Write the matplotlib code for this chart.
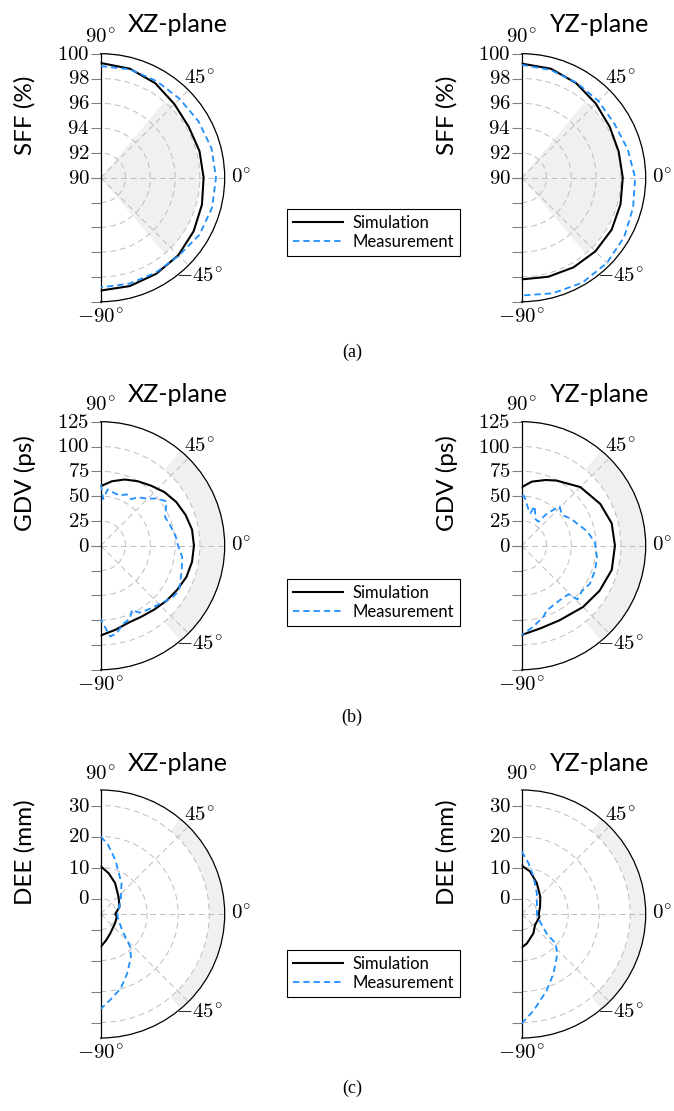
import numpy as np
import matplotlib
matplotlib.use("Agg")
import matplotlib.pyplot as plt
from matplotlib.lines import Line2D

plt.rcParams['mathtext.fontset'] = 'cm'

W, H = 674, 1111

# ---------------- data (angles in degrees) ----------------
SFF_XZ_SIM_DEG = [90, 75, 60, 45, 30, 15, 0, -15, -30, -45, -60, -75, -90]
SFF_XZ_SIM = [99.25, 99.1, 98.8, 98.4, 98.2, 98.25, 98.3, 98.45, 98.65, 98.85, 98.95, 99.05, 99.1]
SFF_XZ_MEAS_DEG = [90, 75, 60, 45, 30, 15, 0, -15, -30, -45, -60, -75, -90]
SFF_XZ_MEAS = [99.0, 99.05, 99.0, 99.0, 99.1, 99.25, 99.3, 99.3, 99.2, 98.9, 98.85, 98.85, 98.85]

SFF_YZ_SIM_DEG = [90, 75, 60, 45, 30, 15, 0, -15, -30, -45, -60, -75, -90]
SFF_YZ_SIM = [99.2, 99.1, 98.8, 98.45, 98.2, 98.1, 98.15, 98.25, 98.38, 98.4, 98.35, 98.27, 98.2]
SFF_YZ_MEAS_DEG = [90, 75, 60, 45, 30, 15, 0, -15, -30, -45, -60, -75, -90]
SFF_YZ_MEAS = [99.1, 99.0, 98.85, 98.75, 98.65, 98.85, 99.15, 99.3, 99.55, 99.72, 99.78, 99.65, 99.5]

GDV_XZ_SIM_DEG = [90, 80, 70, 60, 50, 40, 30, 20, 10, 0, -10, -20, -30, -40, -50, -60, -70, -80, -90]
GDV_XZ_SIM = [60, 66, 71, 75, 79, 84, 88, 91, 93.5, 94, 93.5, 92, 89, 86.5, 84, 82.5, 82.5, 86, 90.5]
GDV_XZ_MEAS_DEG = [90, 87, 83, 76, 70, 63, 57, 52, 46, 40, 34, 30, 24, 16, 8, 0, -8, -16, -24, -30,
                   -36, -42, -48, -54, -60, -64, -68, -74, -80, -84, -87, -90]
GDV_XZ_MEAS = [62, 47, 57, 55, 54, 58, 56, 62, 66, 74, 80, 76, 71, 73, 76, 78, 83, 85, 88, 91,
               89, 85, 82, 80, 78, 72, 79, 82, 90, 92, 82, 74]

GDV_YZ_SIM_DEG = [90, 81, 70, 62, 45, 28, 14, 0, -15, -30, -45, -63, -77, -90]
GDV_YZ_SIM = [59, 65.4, 70.5, 74.4, 83.6, 89.7, 93.5, 94, 94, 90.7, 87.4, 84.3, 85.4, 90]
GDV_YZ_MEAS_DEG = [90, 87, 80, 75, 72, 62, 55, 52, 46, 40, 36, 28, 22, 12, 2, -8, -18, -29, -37,
                   -44, -46, -55, -62, -69, -73, -82, -90]
GDV_YZ_MEAS = [50, 50, 38, 34, 42, 30, 29.5, 41, 55, 52, 52, 57, 60, 68, 74, 76.5, 78, 78.7, 76,
               78, 68, 67, 68, 70, 75, 82.5, 90]

DEE_XZ_SIM_DEG = [90, 79, 65, 44, 21, 0, -10, -33, -64, -78, -90]
DEE_XZ_SIM = [10.4, 8.4, 6.0, 3.0, 1.5, -0.3, 0.3, 0.5, 2.0, 3.6, 5.6]
DEE_XZ_MEAS_DEG = [90, 84, 75, 56, 35, 0, -9, -37, -48, -55, -66, -75, -84, -90]
DEE_XZ_MEAS = [20, 17.5, 13.1, 7.0, 2.9, 0.4, 0.5, 3.6, 9.2, 12, 16, 19.9, 23, 25.6]

DEE_YZ_SIM_DEG = [90, 79, 64, 43, 22, 0, -9, -40, -59, -80, -90]
DEE_YZ_SIM = [10.6, 9.0, 6.1, 3.2, 1.4, 0.5, 0.8, 0.6, 2.3, 4.65, 5.8]
DEE_YZ_MEAS_DEG = [90, 82.5, 72.6, 54, 0, -23, -38, -41, -48, -62, -72, -83, -90]
DEE_YZ_MEAS = [15.2, 11.6, 7.7, 3.3, -0.1, 1.4, 5.25, 9.4, 12.2, 16.8, 21, 26.4, 30.3]

ROW_YLABELS = ['SFF (%)', 'GDV (ps)', 'DEE (mm)']
ROW_RLIM = [(90, 100), (0, 125), (-5, 35)]
ROW_RTICKS = [[90, 92, 94, 96, 98, 100], [0, 25, 50, 75, 100, 125], [0, 10, 20, 30]]
ROW_SHADE = [(90, 98), (100, 125), (30, 35)]
SHADE_HALF_ANGLE = 50
COL_TITLES = ['XZ-plane', 'YZ-plane']
CAPTIONS = ['(a)', '(b)', '(c)']
THETA_TICKS = [-90, -45, 0, 45, 90]
THETA_LABELS = [r'$-90^{\!\circ}$', r'$-45^{\!\circ}$', r'$0^{\!\circ}$', r'$45^{\!\circ}$',
                r'$90^{\!\circ}$']

SERIES = [
    [(SFF_XZ_SIM_DEG, SFF_XZ_SIM, SFF_XZ_MEAS_DEG, SFF_XZ_MEAS),
     (SFF_YZ_SIM_DEG, SFF_YZ_SIM, SFF_YZ_MEAS_DEG, SFF_YZ_MEAS)],
    [(GDV_XZ_SIM_DEG, GDV_XZ_SIM, GDV_XZ_MEAS_DEG, GDV_XZ_MEAS),
     (GDV_YZ_SIM_DEG, GDV_YZ_SIM, GDV_YZ_MEAS_DEG, GDV_YZ_MEAS)],
    [(DEE_XZ_SIM_DEG, DEE_XZ_SIM, DEE_XZ_MEAS_DEG, DEE_XZ_MEAS),
     (DEE_YZ_SIM_DEG, DEE_YZ_SIM, DEE_YZ_MEAS_DEG, DEE_YZ_MEAS)],
]

# ---------------- layout (pixels) ----------------
R = 124
COL_X0 = [100.7, 521.7]
ROW_CY = [177.7, 545.7, 914.0]
TITLE_Y = [32.5, 401.5, 771.0]
TITLE_X = [177.7, 600.0]
YLAB_X = [25.0, 447.0]
YLAB_Y = [115.0, 483.0, 852.0]
CAPTION_Y = [352, 717, 1088]
LEGEND_TOP = [209, 579, 950]

BLUE = '#1e8fff'
SHADE = '#f0f0f0'

fig = plt.figure(figsize=(W / 100, H / 100), dpi=100)

for i in range(3):
    for j in range(2):
        x0 = COL_X0[j]
        cy = ROW_CY[i]
        left = (x0 - R / 2) / W
        bottom = 1 - (cy + R) / H
        ax = fig.add_axes([left, bottom, 2 * R / W, 2 * R / H], projection='polar')
        ax.set_thetamin(-90)
        ax.set_thetamax(90)
        rmin, rmax = ROW_RLIM[i]
        r_in, r_out = ROW_SHADE[i]
        ax.bar(0, r_out - r_in, width=np.deg2rad(2 * SHADE_HALF_ANGLE), bottom=r_in,
               color=SHADE, edgecolor='none', zorder=0.5)
        sd, sv, md, mv = SERIES[i][j]
        ax.plot(np.deg2rad(sd), sv, color='black', lw=1.5, zorder=3)
        ax.plot(np.deg2rad(md), mv, color=BLUE, lw=1.3, dashes=(3.5, 2.2), zorder=4)
        ax.set_rlim(rmin, rmax)
        ticks = ROW_RTICKS[i]
        ax.set_rticks(ticks)
        ax.set_yticklabels([f'${t}$' for t in ticks])
        ax.set_thetagrids(THETA_TICKS, labels=THETA_LABELS)
        ax.grid(True, color='#bdbdbd', linestyle=(0, (6, 4)), linewidth=0.7)
        ax.tick_params(axis='y', left=True, right=True, labelleft=False, labelright=True,
                       direction='out', length=7, width=0.8, color='#808080', pad=1,
                       labelsize=15)
        ax.tick_params(axis='x', labelsize=15, pad=1)
        for sp in ax.spines.values():
            sp.set_color('black')
            sp.set_linewidth(0.9)
        fig.text(TITLE_X[j] / W, 1 - TITLE_Y[i] / H, COL_TITLES[j], ha='center', va='baseline',
                 fontsize=18, family='Lato')
        fig.text(YLAB_X[j] / W, 1 - YLAB_Y[i] / H, ROW_YLABELS[i], ha='center', va='center',
                 rotation=90, fontsize=17.5, family='Lato')
    fig.text(352 / W, 1 - CAPTION_Y[i] / H, CAPTIONS[i], ha='center', va='center',
             fontsize=13, family='Liberation Serif')
    handles = [Line2D([], [], color='black', lw=1.5),
               Line2D([], [], color=BLUE, lw=1.3, dashes=(3.5, 2.2))]
    leg = fig.legend(handles, ['Simulation', 'Measurement'], loc='upper left',
                     bbox_to_anchor=(287 / W, 1 - LEGEND_TOP[i] / H), borderaxespad=0,
                     frameon=True, fancybox=False, edgecolor='black', framealpha=1,
                     prop={'family': 'Lato', 'size': 12}, handlelength=3.0,
                     borderpad=0.35, labelspacing=0.2, handletextpad=0.6)
    leg.get_frame().set_linewidth(0.8)

fig.savefig('out.png', dpi=100)
